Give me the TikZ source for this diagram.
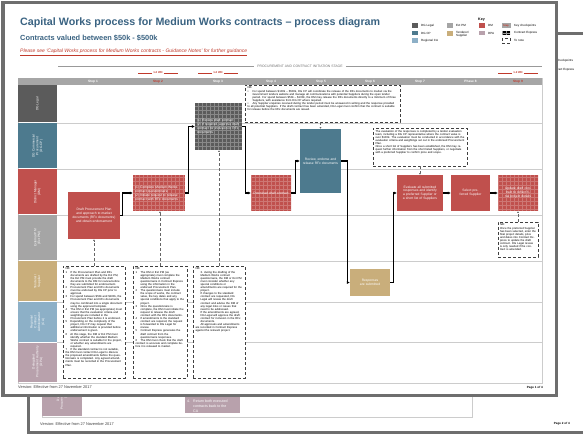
\documentclass[tikz,border=0pt]{standalone}
\usepackage{fontspec}
\setmainfont{Liberation Sans}
\usetikzlibrary{arrows.meta}
\definecolor{cLegal}{HTML}{5B5B5B}
\definecolor{cCP}{HTML}{4D7A8E}
\definecolor{cCA}{HTML}{8DB0C7}
\definecolor{cPM}{HTML}{A5A5A5}
\definecolor{cTen}{HTML}{C9AE7B}
\definecolor{cDM}{HTML}{C0504D}
\definecolor{cDPA}{HTML}{B8A1AC}
\definecolor{cTitle}{HTML}{3A6382}
\definecolor{cRed}{HTML}{C0392B}
\definecolor{cBorder}{HTML}{6E6E6E}
\definecolor{cHead}{HTML}{A6A6A6}
\definecolor{cLine}{HTML}{CCCCCC}
\newcommand\boxf{\fontsize{3.3}{3.9}\selectfont}
\newcommand\legf{\fontsize{3}{3.4}\selectfont}
\newcommand\notef{\fontsize{2.8}{3.1}\selectfont}
\newcommand\verf{\fontsize{3.9}{4.5}\selectfont}
\newcommand\pgnumf{\fontsize{3}{3.5}\selectfont\bfseries}
\newcommand\nbline[2]{\par\noindent\hangindent=5pt\hangafter=1\makebox[5pt][l]{#1}#2}
\tikzset{
 pbox/.style={rectangle, inner sep=1.5pt, text=white, font=\boxf, align=center},
 gridbox/.style={rectangle, inner sep=0, path picture={\draw[#1, line width=0.2pt, step=4pt] (path picture bounding box.south west) grid (path picture bounding box.north east);}},
 gridtxt/.style={inner sep=0, text=white, font=\boxf},
 notebox/.style={draw=black!75, densely dashed, line width=0.4pt, fill=white, inner sep=0},
 notetxt/.style={anchor=north west, inner sep=0, font=\notef, text width=#1},
 flowarrow/.style={line width=1.1pt, -{Latex[length=3pt,width=3.2pt]}},
 dotlink/.style={densely dashed, line width=0.35pt, black!60, -{Latex[length=1.6pt,width=1.8pt]}},
 lanelab/.style={rotate=90, text=white, font=\fontsize{3.2}{3.8}\selectfont, align=center, inner sep=0, minimum height=39pt},
 steplab/.style={text=white, font=\fontsize{3.2}{3.5}\selectfont\bfseries, inner sep=0},
 legsq/.style={minimum width=6pt, minimum height=4.5pt, inner sep=0},
 legtxt/.style={anchor=west, inner sep=0, font=\legf, align=left},
}
\begin{document}
\begin{tikzpicture}[x=1pt,y=-1pt]
\useasboundingbox (0,0) rectangle (583,435);
\clip (0,0) rectangle (583,435);
\fill[white] (0,0) rectangle (583,435);

% ---------- back page ----------
\draw[line width=3pt, cBorder, fill=white] (28,33.5) rectangle (610,432.5);
\node[legtxt] (bk1) at (551,61) {Key checkpoints};
\node[legtxt] (bk2) at (551,70) {Contract Express};
\draw[cLine, line width=0.6pt] (42,300) rectangle (472,417);
\node[lanelab, fill=cDPA, minimum width=44pt, minimum height=40pt] (bL7) at (62,394) {Delegated\\Procurement Authority\\(DPA)};
\node[pbox, fill=cDPA, minimum width=55pt, minimum height=33pt] (bb) at (212.5,396.5) {};
\node[anchor=south west, inner sep=0, text=white, font=\fontsize{3.6}{5}\selectfont, align=left] (bbt) at (187,412.5) {\makebox[6pt][l]{4.}Return both executed\\\hspace*{6pt}contracts back to the\\\hspace*{6pt}CA};
\node[anchor=west, inner sep=0, font=\verf, text=black!75] (ver2) at (40,424) {Version: Effective from 27 November 2017};
\node[anchor=east, inner sep=0, font=\pgnumf] (pg2) at (570,423.5) {Page 2 of 4};

% ---------- front page ----------
\draw[line width=3.5pt, cBorder, fill=white] (3,2.5) rectangle (556.5,395.5);

\node[anchor=west, inner sep=0, font=\fontsize{10.7}{12}\selectfont\bfseries, text=cTitle] (title) at (20,23) {Capital Works process for Medium Works contracts – process diagram};
\node[anchor=west, inner sep=0, font=\fontsize{7.4}{8.5}\selectfont\bfseries, text=cTitle] (subtitle) at (20,38.5) {Contracts valued between \$50k - \$500k};
\node[anchor=west, inner sep=0, font=\fontsize{5}{6}\selectfont\itshape, text=cRed] (link) at (20,52) {\underline{Please see ‘Capital Works process for Medium Works contracts - Guidance Notes’ for further guidance}};

% legend
\node[inner sep=0, font=\fontsize{3.6}{4}\selectfont\bfseries] (key) at (481.5,20) {Key};
\node[legsq, fill=cLegal] (kq1) at (415,25.5) {};
\node[legtxt] (kt1) at (421,25.5) {DG Legal};
\node[legsq, fill=cCP] (kq2) at (415,33) {};
\node[legtxt] (kt2) at (421,33) {DG CP};
\node[legsq, fill=cCA] (kq3) at (415,40.5) {};
\node[legtxt] (kt3) at (421,40.5) {Regional CA};
\node[legsq, fill=cPM] (kq4) at (450,25.5) {};
\node[legtxt] (kt4) at (456,25.5) {Ext PM};
\node[legsq, fill=cTen] (kq5) at (450,33.5) {};
\node[legtxt] (kt5) at (456,34) {Tenderer/\\Supplier};
\node[legsq, fill=cDM] (kq6) at (481.5,25.5) {};
\node[legtxt] (kt6) at (488,25.5) {DM};
\node[legsq, fill=cDPA] (kq7) at (481.5,33) {};
\node[legtxt] (kt7) at (488,33) {DPA};
\node[legsq, fill=cHead, minimum width=9pt, minimum height=5pt, text=cRed, font=\fontsize{2.6}{3}\selectfont\bfseries] (kq8) at (506,25.5) {Step};
\node[legtxt] (kt8) at (514,25.5) {Key checkpoints};
\node[gridbox=black!40, fill=black, minimum width=8pt, minimum height=4pt] (kq9) at (506,33) {};
\node[legtxt] (kt9) at (514,33) {Contract Express};
\node[notebox, minimum width=8pt, minimum height=4.5pt] (kq10) at (506,40.5) {};
\node[legtxt] (kt10) at (514,40.5) {To note};

% stage line
\node[inner sep=0, font=\fontsize{3.4}{4}\selectfont, text=black!55] (stage) at (300,66) {PROCUREMENT AND CONTRACT INITIATION STAGE};
\draw[black!40, line width=0.8pt] (58,66) -- ([xshift=-3pt]stage.west);
\draw[black!40, line width=0.8pt] ([xshift=3pt]stage.east) -- (542,66);

% checkpoint markers
\foreach \mx/\mn in {158/m1, 218/m2, 518/m3}{
  \node[inner sep=1pt, font=\fontsize{2.8}{3}\selectfont\bfseries, text=cRed] (\mn) at (\mx,73) {1-2 WD};
  \draw[cRed, line width=0.9pt] (\mn.west) -- ++(-14,0) (\mn.east) -- ++(14,0);
}

% frame, header, lanes
\draw[cLine, line width=0.6pt] (18,78) rectangle (542,383);
\fill[cHead] (18,78) rectangle (542,85);
\node[steplab] (s1) at (93,81.5) {Step 1};
\node[steplab, text=cRed] (s2) at (158,81.5) {Step 2};
\node[steplab] (s3) at (218,81.5) {Step 3};
\node[steplab] (s4) at (271,81.5) {Step 4};
\node[steplab] (s5) at (321,81.5) {Step 5};
\node[steplab] (s6) at (370,81.5) {Step 6};
\node[steplab] (s7) at (420,81.5) {Step 7};
\node[steplab] (s8) at (470.5,81.5) {Phase 8};
\node[steplab, text=cRed] (s9) at (518,81.5) {Step 9};

\foreach \yy in {123,169,215,261,302,342}
  \draw[cLine, line width=0.6pt] (57,\yy) -- (542,\yy);

\node[lanelab, fill=cLegal, minimum width=37pt] (L1) at (37.5,104) {DG Legal};
\node[lanelab, fill=cCP, minimum width=45pt] (L2) at (37.5,146) {DG Commercial\\Procurement\\(DG CP)};
\node[lanelab, fill=cDM, minimum width=45pt] (L3) at (37.5,192) {District Manager\\(DM)};
\node[lanelab, fill=cPM, minimum width=45pt] (L4) at (37.5,238) {External PM\\(Ext PM)};
\node[lanelab, fill=cTen, minimum width=40pt] (L5) at (37.5,281.5) {Tenderer /\\Supplier};
\node[lanelab, fill=cCA, minimum width=39pt] (L6) at (37.5,322) {Regional\\Contract\\Administrator\\(CA)};
\node[lanelab, fill=cDPA, minimum width=39pt] (L7) at (37.5,362) {Delegated\\Procurement Authority\\(DPA)};

% process boxes
\node[pbox, fill=cDM, minimum width=52pt, minimum height=47pt, text width=46pt] (b1) at (94,215.5) {Draft Procurement Plan and approach to market documents (RFx documents) and obtain endorsement};
\node[gridbox=cDM!78!white, fill=cDM, minimum width=52pt, minimum height=36pt] (b2) at (159,193) {};
\node[gridtxt, text width=48pt, align=left] (b2t) at (b2) {(1) Complete Medium Works contract questionnaire\\(2) Initiate request to release contract with RFx documents};
\node[gridbox=cLegal!72!white, fill=cLegal, minimum width=47pt, minimum height=47pt] (b3) at (218.5,126.5) {};
\node[gridtxt, text width=43pt, align=left] (b3t) at (b3) {(1) Review draft contract\\(2) If required, approve draft contract for inclusion in RFx documents};
\node[gridbox=cDM!78!white, fill=cDM, minimum width=40pt, minimum height=36pt] (b4) at (271,193) {};
\node[gridtxt, text width=36pt, align=center] (b4t) at (b4) {Download draft contract};
\node[pbox, fill=cCP, minimum width=41pt, minimum height=64pt, text width=37pt] (b5) at (320.5,161) {Review, endorse and release RFx documents};
\node[pbox, fill=cTen, minimum width=40pt, minimum height=27pt, text width=36pt] (b6) at (370,282.5) {Responses are submitted};
\node[pbox, fill=cDM, minimum width=46pt, minimum height=36pt, text width=43pt] (b7) at (420,193) {Evaluate all submitted responses and identify a preferred Supplier or a short list of Suppliers};
\node[pbox, fill=cDM, minimum width=39pt, minimum height=36pt, text width=35pt] (b8) at (470.5,193) {Select preferred Supplier};
\node[gridbox=cDM!78!white, fill=cDM, minimum width=40pt, minimum height=36pt] (b9) at (518,193) {};
\node[gridtxt, text width=36pt, align=center] (b9t) at (b9) {Update draft contract to reflect final project details};

% flow connectors
\draw[flowarrow] (b1.east) -- ++(2,0) |- (b2.west);
\draw[flowarrow] (b2.east) -- ++(3,0) |- (b3.west);
\draw[flowarrow] (b3.east) -- ++(3,0) |- (b4.west);
\draw[flowarrow] (b4.east) -- ++(4,0) |- (b5.west);
\draw[flowarrow] (b5.east) -- ++(6,0) |- (b6.west);
\draw[flowarrow] (b6.east) -- ++(3,0) |- (b7.west);
\draw[flowarrow] (b7.east) -- (b8.west);
\draw[flowarrow] (b8.east) -- (b9.west);

% notes
\node[notebox, minimum width=155pt, minimum height=37pt] (nTop) at (322.5,103.5) {};
\node[notetxt=150pt] (tTop) at ([shift={(2.5,2)}]nTop.north west) {\raggedright NB:
\nbline{•}{For spend between \$100k – \$500k, DG CP will coordinate the release of the RFx documents to market via the Government tenders website and manage all communications with potential Suppliers during the open tender period. For spend between \$50k – \$100k, the DM may release the RFx documents directly to a minimum of three Suppliers, with assistance from DG CP where required.}
\nbline{•}{Any Supplier enquiries received during the tender period must be answered in writing and the response provided to all potential Suppliers. If the draft contract has been amended, DG Legal must confirm that the contract is suitable for release before the RFx documents are issued.}};

\node[notebox, minimum width=94pt, minimum height=38pt] (nCP) at (420,147) {};
\node[notetxt=89pt] (tCP) at ([shift={(2.5,2)}]nCP.north west) {\raggedright The evaluation of the responses is completed by a tender evaluation team, including a DG CP representative where the contract value is over \$100k. The evaluation must be conducted in accordance with the evaluation criteria and weightings set out in the endorsed Procurement Plan.\par
Once a short list of Suppliers has been established, the DM may request further information from the short listed Suppliers, or negotiate with a preferred Supplier to confirm price and scope.};

\node[notebox, minimum width=40pt, minimum height=35pt] (n9) at (518,239.5) {};
\node[notetxt=36pt] (t9) at ([shift={(2,2)}]n9.north west) {\raggedright NB:\par Once the preferred Supplier has been selected, enter the final project details, price and dates into Contract Express to update the draft contract. DG Legal review is only needed if the contract is amended.};

\node[notebox, minimum width=62pt, minimum height=112pt] (n1) at (94,322) {};
\node[notetxt=57pt] (t1) at ([shift={(2.5,2)}]n1.north west) {\raggedright NB:
\nbline{1}{If the Procurement Plan and RFx documents are drafted by the Ext PM, the Ext PM must provide the draft documents to the DM for review before they are submitted for endorsement.}
\nbline{2}{Procurement Plan and RFx documents must be endorsed by DG CP prior to approval.}
\nbline{3}{For spend between \$50k and \$100k, the Procurement Plan and RFx documents may be combined into a single document using the approved template.}
\nbline{4}{The DM or Ext PM (as appropriate) must ensure that the evaluation criteria and weightings are included in the Procurement Plan before it is endorsed.}
\nbline{5}{Depending on the complexity of the project, DG CP may request that additional information is provided before endorsement is given.}
\nbline{6}{At this stage, the DM or Ext PM must identify whether the standard Medium Works contract is suitable for the project, or whether any amendments are required.}
\nbline{7}{If the standard contract is not suitable, the DM must contact DG Legal to discuss the proposed amendments before the questionnaire is completed. Any agreed amendments must be recorded in the Procurement Plan.}};

\node[notebox, minimum width=54pt, minimum height=112pt] (n2) at (160,322) {};
\node[notetxt=49pt] (t2) at ([shift={(2.5,2)}]n2.north west) {\raggedright NB:
\nbline{1}{The DM or Ext PM (as appropriate) must complete the Medium Works contract questionnaire in Contract Express using the information in the endorsed Procurement Plan.}
\nbline{2}{The questionnaire must include the scope of works, the contract value, the key dates and any special conditions that apply to the project.}
\nbline{3}{Once the questionnaire is complete, the DM must initiate the request to release the draft contract with the RFx documents.}
\nbline{4}{If amendments to the standard contract are required, the request is forwarded to DG Legal for review.}
\nbline{5}{Contract Express generates the draft contract from the questionnaire responses.}
\nbline{6}{The DM must check that the draft contract is accurate and complete before it is released to market.}};

\node[notebox, minimum width=52pt, minimum height=112pt] (n3) at (219,322) {};
\node[notetxt=47pt] (t3) at ([shift={(2.5,2)}]n3.north west) {\raggedright NB:
\nbline{}{3. during the drafting of the Medium Works contract questionnaire, the DM or Ext PM must consider whether any special conditions or amendments are required for the project.}
\nbline{}{If changes to the standard contract are requested, DG Legal will review the draft contract and advise the DM of any legal risks or issues that need to be addressed.}
\nbline{}{If the amendments are agreed, DG Legal will approve the draft contract for inclusion in the RFx documents.}
\nbline{}{All approvals and amendments are recorded in Contract Express against the relevant project.}};

% note links
\draw[dotlink] (n1.north) -- (b1.south);
\draw[dotlink] (n2.north) -- (n2.north |- b2.south);
\draw[dotlink] (n3.north) -- (n3.north |- b3.south);
\draw[dotlink] (b5.north |- nTop.south) -- (b5.north);
\draw[dotlink] (nCP.south) -- (b7.north);
\draw[dotlink] (n9.north) -- (b9.south);

% footer
\node[anchor=west, inner sep=0, font=\verf, text=black!75] (ver1) at (18,387.5) {Version: Effective from 27 November 2017};
\node[anchor=east, inner sep=0, font=\pgnumf] (pg1) at (543,387.5) {Page 1 of 4};
\end{tikzpicture}
\end{document}
